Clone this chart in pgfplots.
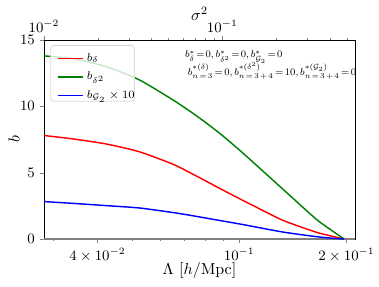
\documentclass[border=0pt]{standalone}
\usepackage{pgfplots}
\pgfplotsset{compat=1.18}
\begin{document}
\begin{tikzpicture}
\begin{axis}[
  at={(0,0)}, anchor=south west, scale only axis,
  width=194.4pt, height=124.4pt,
  xmode=log, xmin=0.02832, xmax=0.2113, ymin=0, ymax=15,
  ytick={0,5,10,15},
  extra y ticks={0}, extra y tick labels={},
  extra y tick style={grid=major, major grid style={gray, line width=1.1pt}, major tick length=0pt},
  xtick={0.04,0.1,0.2},
  xticklabels={$4\times10^{-2}$,$10^{-1}$,$2\times10^{-1}$},
  minor xtick={0.03,0.05,0.06,0.07,0.08,0.09},
  xtick pos=bottom, ytick pos=left, tick align=outside,
  major tick length=2.2pt, minor tick length=1.3pt,
  tick label style={font=\small},
  xlabel={$\Lambda\ [h/\mathrm{Mpc}]$},
  ylabel={$b$},
  xlabel style={at={(axis description cs:0.5,-0.156)},anchor=center},
  ylabel style={at={(axis description cs:-0.0965,0.5)},anchor=center},
  clip=false,
  legend style={at={(axis description cs:0.033,0.962)}, anchor=north west,
    draw=none, fill=none, font=\scriptsize, row sep=1.2pt, inner sep=1.5pt},
  legend cell align=left,
  legend image code/.code={\draw[#1, line width=1pt] (0cm,0cm) -- (0.55cm,0cm);},
]
\addplot[color=red, line width=0.9pt, smooth, tension=0.4] coordinates {
(0.02837,7.8) (0.0340,7.55) (0.0422,7.17) (0.0524,6.58) (0.0650,5.65) (0.0724,5.03)
(0.0806,4.37) (0.0898,3.7) (0.1,3.05) (0.1067,2.67) (0.1323,1.42) (0.1642,0.52)
(0.1828,0.2) (0.197,0)};
\addlegendentry{$b_\delta$}
\addplot[color=green!50!black, line width=0.9pt, smooth, tension=0.4] coordinates {
(0.02837,13.8) (0.0340,13.6) (0.0422,13.0) (0.0524,12.0) (0.0650,10.5) (0.0724,9.67)
(0.0806,8.77) (0.0898,7.79) (0.1,6.72) (0.1067,6.05) (0.1323,3.78) (0.1642,1.51)
(0.1828,0.6) (0.197,0)};
\addlegendentry{$b_{\delta^2}$}
\addplot[color=blue, line width=0.9pt, smooth, tension=0.4] coordinates {
(0.02837,2.82) (0.0340,2.69) (0.0422,2.52) (0.0524,2.34) (0.0650,2.0) (0.0724,1.8)
(0.0806,1.58) (0.0898,1.36) (0.1,1.14) (0.1067,1.0) (0.1323,0.53) (0.1642,0.18)
(0.1828,0.06) (0.197,0)};
\addlegendentry{$b_{\mathcal{G}_2}\times 10$}
\fill[white, fill opacity=0.8, rounded corners=2pt]
  (rel axis cs:0.0215,0.973) rectangle (rel axis cs:0.2913,0.692);
\draw[black!15, rounded corners=2pt, line width=0.5pt]
  (rel axis cs:0.0215,0.973) rectangle (rel axis cs:0.2913,0.692);
\node[anchor=base west, font=\footnotesize, scale=0.78, transform shape, inner sep=0pt]
  at (rel axis cs:0.453,0.9096)
  {\thickmuskip=2mu $b^*_\delta=0, b^*_{\delta^2}=0, b^*_{\mathcal{G}_2}=0$};
\node[anchor=base west, font=\footnotesize, scale=0.78, transform shape, inner sep=0pt]
  at (rel axis cs:0.462,0.824)
  {\thickmuskip=2.5mu $b^{*(\delta)}_{n\;=\;3}=0, b^{*(\delta^2)}_{n\;=\;3\;+\;4}=10, b^{*(\mathcal{G}_2)}_{n\;=\;3\;+\;4}=0$};
\node[anchor=center] at (rel axis cs:0.5,1.132) {$\sigma^2$};
\end{axis}
\begin{axis}[
  at={(0,0)}, anchor=south west, scale only axis,
  width=194.4pt, height=124.4pt,
  xmode=log, xmin=0.01, xmax=0.5548, ymin=0, ymax=1,
  axis x line*=top, axis y line=none,
  xtick={0.01,0.1}, xticklabels={$10^{-2}$,$10^{-1}$},
  minor xtick={0.02,0.03,0.04,0.05,0.06,0.07,0.08,0.09,0.2,0.3,0.4,0.5},
  tick align=outside, major tick length=2.2pt, minor tick length=1.3pt,
  tick label style={font=\small}, xticklabel shift=-1pt,
]
\end{axis}
\pgfresetboundingbox
\path[use as bounding box] (-27.5pt,-29.4pt) rectangle (209.4pt,149.4pt);
\end{tikzpicture}
\end{document}
